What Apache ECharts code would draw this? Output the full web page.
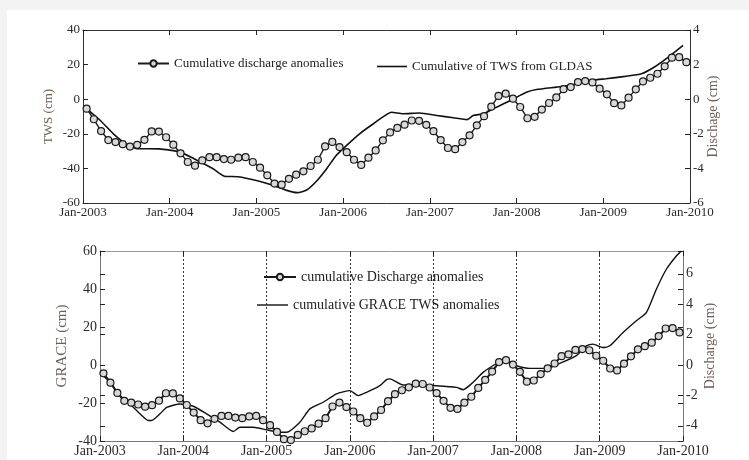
<!DOCTYPE html>
<html>
<head>
<meta charset="utf-8">
<script src="https://cdn.jsdelivr.net/npm/echarts@6/dist/echarts.min.js"></script>
<style>
  html, body { margin: 0; padding: 0; background: #f3f3f3; }
  #chart { width: 749px; height: 460px; }
</style>
</head>
<body>
<div id="chart"></div>
<script>
// Time span (years) shared by both panels
const startYear = 2003;
const endYear = 2010;

// Monthly cumulative discharge anomalies (cm), Jan-2003 .. Dec-2009
const dischargeMonthly = [
  -0.55, -1.16, -1.84, -2.36, -2.48, -2.60, -2.74, -2.64, -2.35, -1.86, -1.87, -2.20,
  -2.63, -3.13, -3.63, -3.84, -3.54, -3.35, -3.35, -3.46, -3.50, -3.38, -3.35, -3.63,
  -3.96, -4.40, -4.88, -4.94, -4.60, -4.36, -4.17, -3.86, -3.50, -2.73, -2.47, -2.77,
  -3.06, -3.50, -3.80, -3.38, -2.96, -2.38, -1.92, -1.66, -1.47, -1.23, -1.25, -1.48,
  -1.85, -2.36, -2.82, -2.89, -2.48, -2.09, -1.51, -0.98, -0.43, 0.19, 0.32, 0.03,
  -0.45, -1.10, -1.02, -0.60, -0.22, 0.10, 0.58, 0.70, 0.99, 1.05, 0.97, 0.61,
  0.28, -0.23, -0.36, 0.09, 0.57, 1.03, 1.24, 1.47, 1.90, 2.40, 2.43, 2.14
];

// Cumulative TWS from GLDAS (cm): [decimal year, value]
const gldasTws = [
  [2003.03, -5.0], [2003.20, -12.3], [2003.35, -20.0], [2003.52, -26.7], [2003.62, -28.6],
  [2003.88, -28.7], [2004.12, -30.6], [2004.28, -34.4], [2004.50, -40.2], [2004.63, -44.5],
  [2004.79, -44.8], [2005.00, -47.0], [2005.19, -49.8], [2005.35, -52.7], [2005.47, -54.0],
  [2005.58, -52.5], [2005.70, -47.0], [2005.81, -40.2], [2005.92, -32.5], [2006.04, -26.7],
  [2006.19, -20.0], [2006.35, -14.2], [2006.56, -7.5], [2006.69, -8.4], [2006.88, -8.0],
  [2007.08, -9.4], [2007.27, -10.7], [2007.43, -11.8], [2007.50, -9.4], [2007.62, -8.4],
  [2007.77, -4.6], [2007.93, -0.7], [2008.12, 4.1], [2008.23, 5.6], [2008.46, 7.0],
  [2008.62, 8.0], [2008.77, 9.9], [2008.93, 11.3], [2009.03, 11.8], [2009.25, 13.2],
  [2009.44, 14.7], [2009.59, 18.6], [2009.75, 24.3], [2009.92, 31.1]
];

// Cumulative GRACE TWS anomalies (cm): [decimal year, value]
const graceTws = [
  [2003.00, -3.9], [2003.12, -9.1], [2003.24, -16.1], [2003.36, -20.5], [2003.48, -25.7],
  [2003.58, -29.2], [2003.62, -29.2], [2003.72, -25.7], [2003.80, -22.3], [2003.96, -20.5],
  [2004.12, -21.7], [2004.28, -25.7], [2004.44, -30.1], [2004.60, -35.0], [2004.68, -32.8],
  [2004.84, -32.8], [2005.00, -34.1], [2005.16, -35.4], [2005.24, -35.4], [2005.40, -30.1],
  [2005.52, -23.1], [2005.68, -19.6], [2005.84, -15.2], [2006.00, -13.5], [2006.10, -16.1],
  [2006.20, -14.4], [2006.36, -10.9], [2006.44, -7.7], [2006.48, -7.3], [2006.64, -10.5],
  [2006.84, -10.5], [2007.04, -10.9], [2007.28, -11.8], [2007.36, -13.0], [2007.48, -9.1],
  [2007.60, -3.9], [2007.76, 0.8], [2007.84, 2.3], [2008.00, -0.4], [2008.16, -1.8],
  [2008.36, -1.8], [2008.52, 0.8], [2008.72, 4.9], [2008.84, 10.1], [2008.92, 11.0],
  [2009.04, 9.2], [2009.12, 10.1], [2009.28, 17.1], [2009.44, 23.3], [2009.56, 27.6],
  [2009.68, 39.9], [2009.80, 50.4], [2009.92, 57.4], [2009.98, 60.0]
];

// Axis ranges [min, max, step]
const twsRange = [-60, 40, 20];
const topDischargeRange = [-6, 4, 2];
const graceRange = [-40, 60, 20];
const bottomDischargeRange = [-5, 7.5, 0.5];
const bottomDischargeTicks = [-4, -2, 0, 2, 4, 6];

// Series names
const names = {
  topDischarge: 'Cumulative discharge anomalies',
  gldas: 'Cumulative of TWS from GLDAS',
  bottomDischarge: 'cumulative Discharge anomalies',
  grace: 'cumulative GRACE TWS anomalies'
};

// monthly points sit in the middle of each month
const dischargePoints = dischargeMonthly.map((v, i) => [startYear + (i + 0.5) / 12, v]);

const serif = '"Liberation Serif", "DejaVu Serif", serif';
const labelColor = '#2a2a2a';
const nameColor = '#6d6059';

function xAxisFor(gridIndex, position, showLabels, lineColor, fontSize, grid) {
  return {
    type: 'value', gridIndex, position,
    min: startYear, max: endYear, interval: 1,
    axisLine: { show: true, onZero: false, lineStyle: { color: lineColor, width: 1 } },
    axisTick: { show: true, inside: true, length: 5, lineStyle: { color: '#222', width: 1 } },
    axisLabel: {
      show: showLabels, margin: 3, fontFamily: serif, fontSize, color: labelColor,
      formatter: v => 'Jan-' + v
    },
    splitLine: grid ? {
      show: true, showMinLine: false, showMaxLine: false,
      lineStyle: { color: '#333', width: 1, type: [2, 2] }
    } : { show: false }
  };
}

function yAxisFor(gridIndex, position, range, showLabels, lineColor, fontSize, name, nameSize, nameGap, ticks) {
  const axis = {
    type: 'value', gridIndex, position,
    min: range[0], max: range[1], interval: range[2],
    name: name || '', nameLocation: 'middle', nameRotate: 90, nameGap: nameGap || 0,
    nameMoveOverlap: false,
    nameTextStyle: { fontFamily: serif, fontSize: nameSize || 13, color: nameColor },
    axisLine: { show: true, onZero: false, lineStyle: { color: lineColor, width: 1 } },
    axisTick: { show: true, inside: true, length: 5, lineStyle: { color: '#222', width: 1 } },
    axisLabel: { show: showLabels, margin: 3, fontFamily: serif, fontSize, color: labelColor },
    splitLine: { show: false }
  };
  if (ticks) {
    axis.axisTick.customValues = ticks;
    axis.axisLabel.customValues = ticks;
  }
  return axis;
}

const chart = echarts.init(document.getElementById('chart'), null, { renderer: 'canvas' });

const markerStyle = { color: '#d8d8d8', borderColor: '#1a1a1a', borderWidth: 1.2 };

chart.setOption({
  animation: false,
  backgroundColor: 'transparent',
  graphic: [{
    type: 'rect', silent: true, z: -10,
    shape: { x: 7, y: 10, width: 742, height: 450 },
    style: { fill: '#ffffff' }
  }],
  grid: [
    { left: 83, top: 30, right: 59, height: 173, containLabel: false },
    { left: 100, top: 251, right: 66, height: 190, containLabel: false }
  ],
  xAxis: [
    xAxisFor(0, 'bottom', true, '#333', 13, false),
    xAxisFor(0, 'top', false, '#333', 13, false),
    xAxisFor(1, 'bottom', true, '#777', 14, true),
    xAxisFor(1, 'top', false, '#999', 14, false)
  ],
  yAxis: [
    yAxisFor(0, 'left', twsRange, true, '#333', 13, 'TWS (cm)', 13, 28),
    yAxisFor(0, 'right', topDischargeRange, true, '#333', 13, 'Dischage (cm)', 14, 16),
    yAxisFor(1, 'left', graceRange, true, '#777', 14, 'GRACE (cm)', 15, 30),
    yAxisFor(1, 'right', bottomDischargeRange, true, '#777', 14, 'Discharge (cm)', 14, 20, bottomDischargeTicks),
    // mirrored ticks of the opposite scale on each edge
    yAxisFor(1, 'right', graceRange, false, '#777', 14),
    yAxisFor(1, 'left', bottomDischargeRange, false, '#777', 14, '', 14, 0, bottomDischargeTicks)
  ],
  legend: [
    {
      left: 137, top: 57, padding: 0, itemWidth: 31, itemHeight: 8,
      data: [names.topDischarge],
      textStyle: { fontFamily: serif, fontSize: 13, color: '#222' }
    },
    {
      left: 377, top: 60, padding: 0, itemWidth: 30, itemHeight: 1.6,
      data: [{ name: names.gldas, icon: 'rect' }],
      itemStyle: { color: '#111' },
      textStyle: { fontFamily: serif, fontSize: 13, color: '#222' }
    },
    {
      left: 263, top: 270, padding: 0, itemWidth: 32, itemHeight: 8,
      data: [names.bottomDischarge],
      textStyle: { fontFamily: serif, fontSize: 14, color: '#222' }
    },
    {
      left: 257, top: 298, padding: 0, itemWidth: 31, itemHeight: 1.4,
      data: [{ name: names.grace, icon: 'rect' }],
      itemStyle: { color: '#111' },
      textStyle: { fontFamily: serif, fontSize: 14, color: '#222' }
    }
  ],
  series: [
    {
      name: names.topDischarge, type: 'line', xAxisIndex: 0, yAxisIndex: 1,
      data: dischargePoints, symbol: 'circle', symbolSize: 7, showSymbol: true,
      lineStyle: { color: '#1a1a1a', width: 1.4 }, itemStyle: markerStyle, z: 3
    },
    {
      name: names.gldas, type: 'line', xAxisIndex: 0, yAxisIndex: 0,
      data: gldasTws, symbol: 'none', smooth: 0.2,
      lineStyle: { color: '#111', width: 1.6 }, itemStyle: { color: '#111' }, z: 2
    },
    {
      name: names.bottomDischarge, type: 'line', xAxisIndex: 2, yAxisIndex: 3,
      data: dischargePoints, symbol: 'circle', symbolSize: 7, showSymbol: true,
      lineStyle: { color: '#1a1a1a', width: 2 }, itemStyle: markerStyle, z: 3
    },
    {
      name: names.grace, type: 'line', xAxisIndex: 2, yAxisIndex: 2,
      data: graceTws, symbol: 'none', smooth: 0.2,
      lineStyle: { color: '#111', width: 1.4 }, itemStyle: { color: '#111' }, z: 2
    }
  ]
});
</script>
</body>
</html>
